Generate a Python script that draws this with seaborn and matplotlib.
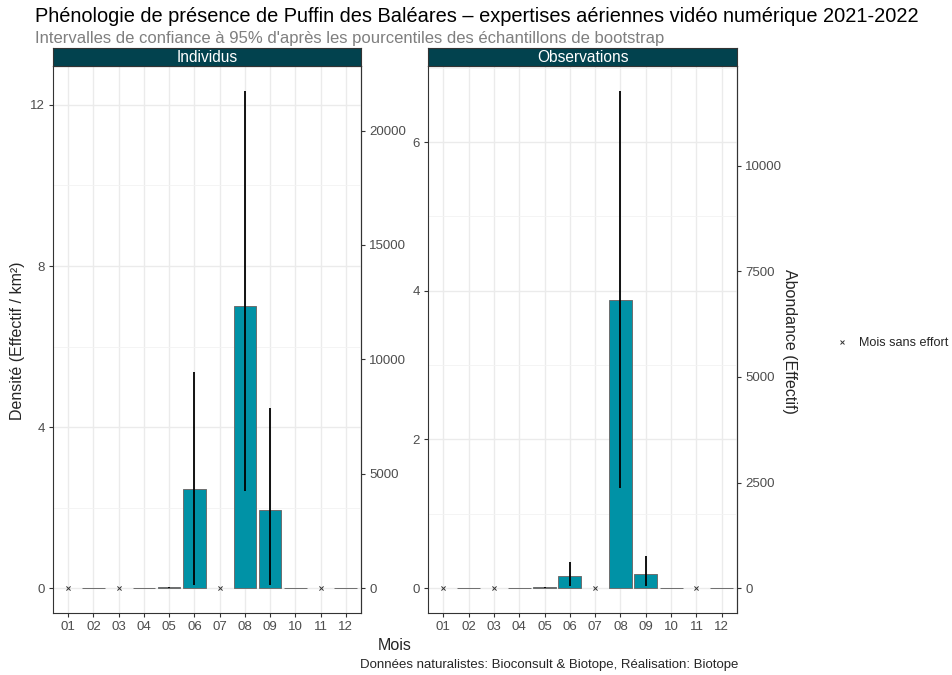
import numpy as np
import pandas as pd
import matplotlib
matplotlib.use("Agg")
import matplotlib.pyplot as plt
from matplotlib.ticker import MultipleLocator, FixedLocator
from matplotlib.lines import Line2D
import seaborn as sns

# ---- data -------------------------------------------------------------
mois = ["01", "02", "03", "04", "05", "06", "07", "08", "09", "10", "11", "12"]
effort = [0, 1, 0, 1, 1, 1, 0, 1, 1, 1, 0, 1]

# Individus : densité (ind./km²) et IC 95 % bootstrap
dens_ind = [np.nan, 0.0, np.nan, 0.0, 0.02, 2.46, np.nan, 7.00, 1.94, 0.0, np.nan, 0.0]
lo_ind = [np.nan, 0.0, np.nan, 0.0, 0.00, 0.07, np.nan, 2.41, 0.07, 0.0, np.nan, 0.0]
hi_ind = [np.nan, 0.0, np.nan, 0.0, 0.04, 5.36, np.nan, 12.35, 4.47, 0.0, np.nan, 0.0]

# Observations : densité (obs./km²) et IC 95 % bootstrap
dens_obs = [np.nan, 0.0, np.nan, 0.0, 0.01, 0.17, np.nan, 3.88, 0.19, 0.0, np.nan, 0.0]
lo_obs = [np.nan, 0.0, np.nan, 0.0, 0.00, 0.03, np.nan, 1.35, 0.03, 0.0, np.nan, 0.0]
hi_obs = [np.nan, 0.0, np.nan, 0.0, 0.02, 0.35, np.nan, 6.69, 0.43, 0.0, np.nan, 0.0]

SURFACE_KM2 = 1760  # surface de la zone d'étude, densité -> abondance

panels = ["Individus", "Observations"]
left_ticks = {"Individus": [0, 4, 8, 12], "Observations": [0, 2, 4, 6]}
right_ticks = {"Individus": [0, 5000, 10000, 15000, 20000],
               "Observations": [0, 2500, 5000, 7500, 10000]}

frames = []
for name, d, lo, hi in [("Individus", dens_ind, lo_ind, hi_ind),
                        ("Observations", dens_obs, lo_obs, hi_obs)]:
    frames.append(pd.DataFrame({"panel": name, "Mois": mois, "Densite": d,
                                "lo": lo, "hi": hi, "effort": effort}))
df = pd.concat(frames, ignore_index=True)

# ---- style ------------------------------------------------------------
sns.set_theme(style="white")
plt.rcParams["font.family"] = ["Liberation Sans", "DejaVu Sans"]

BAR = "#0092A6"
STRIP = "#02424E"
GRID = "#EBEBEB"
FRAME = "#333333"
TICKLAB = "#4D4D4D"

W, H = 952, 675
fig = plt.figure(figsize=(W / 100, H / 100), dpi=100)

boxes = {"Individus": (53, 361), "Observations": (428, 737)}
y_top, y_bot, strip_top = 66, 613, 48

for name in panels:
    x0, x1 = boxes[name]
    ax = fig.add_axes([x0 / W, 1 - y_bot / H, (x1 - x0) / W, (y_bot - y_top) / H])
    sub = df[df["panel"] == name].reset_index(drop=True)
    pos = {m: i for i, m in enumerate(mois)}

    sns.barplot(data=sub, x="Mois", y="Densite", order=mois, ax=ax,
                color=BAR, saturation=1, width=0.9, errorbar=None,
                edgecolor="#6E6E6E", linewidth=0.7, zorder=3)

    ok = sub.dropna(subset=["lo", "hi"])
    ax.vlines([pos[m] for m in ok["Mois"]], ok["lo"], ok["hi"],
              color="black", linewidth=1.3, zorder=4)

    ne = sub[sub["effort"] == 0]
    ax.scatter([pos[m] for m in ne["Mois"]], np.zeros(len(ne)), marker="x",
               s=9, color="#333333", linewidth=0.7, zorder=5)

    top = np.nanmax(sub["hi"])
    ax.set_ylim(-0.05 * top, 1.05 * top)
    ax.set_xlim(-0.6, len(mois) - 0.4)

    ax.yaxis.set_major_locator(FixedLocator(left_ticks[name]))
    step = left_ticks[name][1] - left_ticks[name][0]
    ax.yaxis.set_minor_locator(MultipleLocator(step / 2))
    ax.set_axisbelow(True)
    ax.grid(True, which="major", axis="both", color=GRID, linewidth=1.0, zorder=0)
    ax.grid(True, which="minor", axis="y", color="#F3F3F3", linewidth=0.6, zorder=0)

    for s in ax.spines.values():
        s.set_visible(True)
        s.set_color(FRAME)
        s.set_linewidth(0.8)
    ax.tick_params(axis="both", which="major", direction="out", length=3,
                   width=0.8, color=FRAME, labelcolor=TICKLAB, labelsize=9.5,
                   left=True, bottom=True, pad=3)
    ax.tick_params(axis="y", which="minor", left=False)
    ax.set_xlabel("")
    ax.set_ylabel("")

    sec = ax.secondary_yaxis("right", functions=(lambda d: d * SURFACE_KM2,
                                                 lambda a: a / SURFACE_KM2))
    sec.set_yticks(right_ticks[name])
    sec.tick_params(axis="y", direction="out", length=3, width=0.8, color=FRAME,
                    labelcolor=TICKLAB, labelsize=9.5, pad=3)
    sec.spines["right"].set_color(FRAME)
    sec.spines["right"].set_linewidth(0.8)

    # bandeau de facette
    sax = fig.add_axes([x0 / W, 1 - y_top / H, (x1 - x0) / W, (y_top - strip_top) / H])
    sax.set_facecolor(STRIP)
    sax.set_xticks([])
    sax.set_yticks([])
    for s in sax.spines.values():
        s.set_color(FRAME)
        s.set_linewidth(0.8)
    sax.text(0.5, 0.45, name, ha="center", va="center", color="white",
             fontsize=11.2, transform=sax.transAxes)

# ---- titres et annotations -------------------------------------------
fig.text(35 / W, 1 - 17 / H,
         "Phénologie de présence de Puffin des Baléares – expertises aériennes vidéo numérique 2021-2022",
         ha="left", va="center", fontsize=14.4, color="black")
fig.text(35 / W, 1 - 39 / H,
         "Intervalles de confiance à 95% d'après les pourcentiles des échantillons de bootstrap",
         ha="left", va="center", fontsize=12, color="#7F7F7F")
fig.text(395 / W, 1 - 645 / H, "Mois", ha="center", va="center", fontsize=11.5)
fig.text(18 / W, 1 - 341 / H, "Densité (Effectif / km²)", ha="center", va="center",
         rotation=90, fontsize=11.5)
fig.text(790 / W, 1 - 341 / H, "Abondance (Effectif)", ha="center", va="center",
         rotation=270, fontsize=11.5)
fig.text(738 / W, 1 - 665 / H,
         "Données naturalistes: Bioconsult & Biotope, Réalisation: Biotope",
         ha="right", va="center", fontsize=9.5)

handle = Line2D([], [], linestyle="none", marker="x", markersize=3,
                markeredgewidth=0.7, color="#333333")
fig.legend([handle], ["Mois sans effort"], loc="center left",
           bbox_to_anchor=(829 / W, 1 - 343 / H), frameon=False, fontsize=9.1,
           handlelength=1.2, handletextpad=0.8, borderaxespad=0)

fig.savefig("out.png", dpi=100)
